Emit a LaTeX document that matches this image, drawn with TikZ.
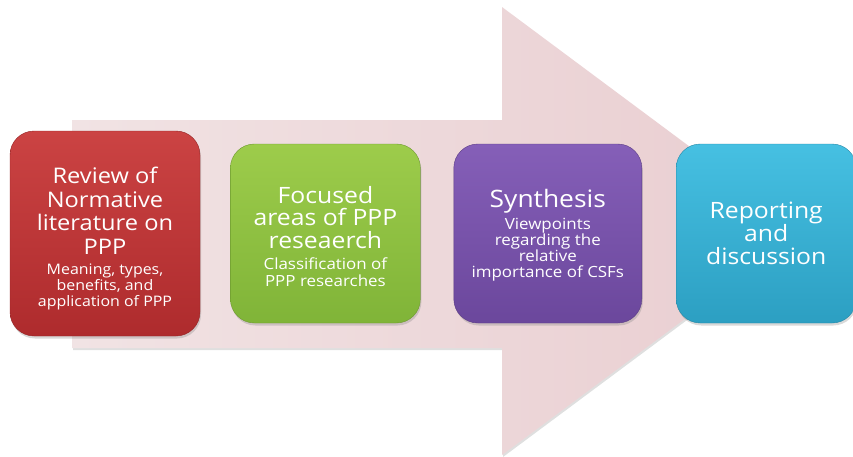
\documentclass[tikz,border=0pt]{standalone}
\usepackage{fontspec}
\setmainfont{Open Sans}[FakeStretch=1.1]
\usetikzlibrary{positioning,shadows}

\definecolor{flowpink}{HTML}{E9CDD0}
\definecolor{flowlight}{HTML}{F1E3E4}
\definecolor{redtop}{HTML}{CB4343}
\definecolor{redbot}{HTML}{AE2B2D}
\definecolor{greentop}{HTML}{9DCC4B}
\definecolor{greenbot}{HTML}{80B438}
\definecolor{purpletop}{HTML}{855FB8}
\definecolor{purplebot}{HTML}{6B479C}
\definecolor{tealtop}{HTML}{46C0E2}
\definecolor{tealbot}{HTML}{2C9FC2}

\newcommand{\hd}[2]{\fontsize{#1}{#2}\selectfont}
\newcommand{\stagetext}[3][0pt]{\begin{minipage}{180pt}\centering
  \vspace*{#1}#2\par\vspace{4pt}
  #3\par\end{minipage}}

\begin{document}
\begin{tikzpicture}[x=1pt, y=-1pt, node distance=30pt]
% Styles
\tikzstyle{stage} = [rectangle, rounded corners=24pt, minimum width=190pt, minimum height=179pt, text=white, inner sep=0pt, drop shadow={opacity=0.3, shadow xshift=1pt, shadow yshift=-2.5pt}]
\tikzstyle{redstage} = [stage, top color=redtop, bottom color=redbot, draw=redbot!85!black]
\tikzstyle{greenstage} = [stage, top color=greentop, bottom color=greenbot, draw=greenbot!85!black]
\tikzstyle{purplestage} = [stage, top color=purpletop, bottom color=purplebot, draw=purplebot!85!black]
\tikzstyle{tealstage} = [stage, top color=tealtop, bottom color=tealbot, draw=tealbot!85!black]

\useasboundingbox (0,0) rectangle (853,456);

% Background arrow
\shade[left color=flowlight, right color=flowpink, drop shadow={opacity=0.25, shadow xshift=1pt, shadow yshift=-2pt}]
  (72,120) -- (502,120) -- (502,7) -- (803,231) -- (502,455) -- (502,348) -- (72,348) -- cycle;

% Nodes
\node (review) [redstage, minimum height=205pt] at (105,233.5)
  {\stagetext[10pt]{\hd{21.5}{23.5}Review of\\Normative\\literature on\\PPP}{\hd{14.5}{16}Meaning, types,\\benefits, and\\application of PPP}};
\node (focus) [greenstage, right=30pt of review] 
  {\stagetext[6pt]{\hd{22.5}{22.5}Focused\\areas of PPP\\reseaerch}{\hd{15.4}{17}Classification of\\PPP researches}};
\node (synth) [purplestage, minimum width=188pt, right=33pt of focus]
  {\stagetext[4pt]{\hd{24}{26}Synthesis}{\hd{15.4}{16}Viewpoints\\regarding the\\relative\\importance of CSFs}};
\node (report) [tealstage, minimum width=180pt, right=34pt of synth]
  {\stagetext[4pt]{\hd{22.5}{23}Reporting\\and\\discussion}{}};

\end{tikzpicture}
\end{document}
